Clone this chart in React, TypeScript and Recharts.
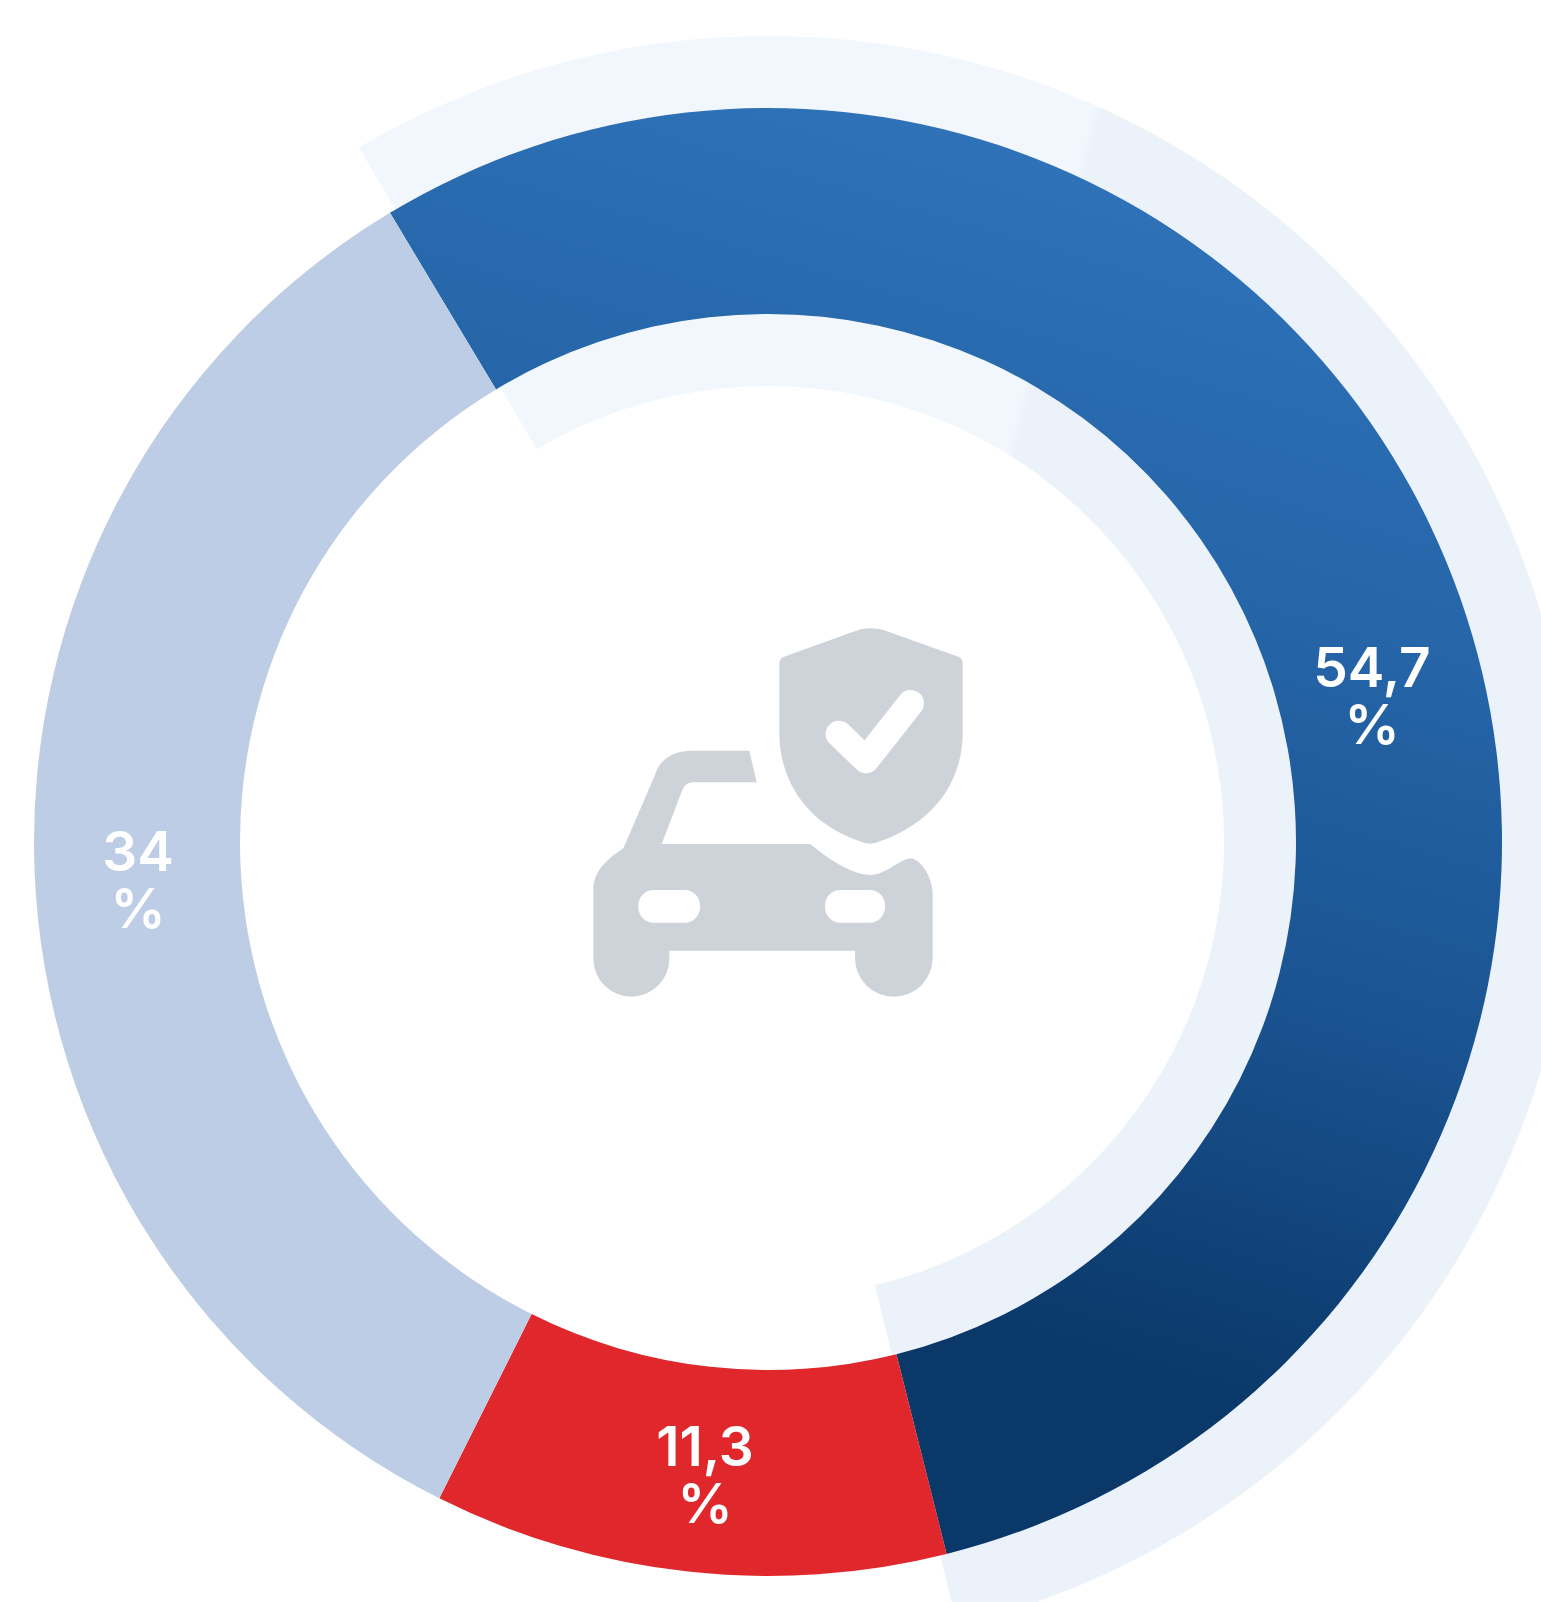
import React from "react";
import { PieChart, Pie, Cell } from "recharts";

const categories = ["A", "B", "C"];
const shares = [54.7, 11.3, 34];
const shareLabels = ["54,7", "11,3", "34"];
const bandValues = [54.7, 45.3];

const COLORS = ["url(#mainBlue)", "#e0272c", "#bccde5"];
const BAND_COLORS = ["url(#paleBand)", "none"];
const CX = 768;
const CY = 842;
// text anchors of the labels: offset from the centre of the ring
const LABEL_OFFSETS = [
  { dx: 604, dy: -155 },
  { dx: -63, dy: 624 },
  { dx: -630, dy: 29 },
];
const LINE_GAP = 57;

const mainData = categories.map((name, i) => ({ name, value: shares[i] }));
const bandData = bandValues.map((value, i) => ({ name: `band${i}`, value }));

const renderLabel = (props: any) => {
  const o = LABEL_OFFSETS[props.index];
  const x = CX + o.dx;
  const y = CY + o.dy;
  return (
    <text
      key={props.index}
      x={x}
      y={y}
      fill="#ffffff"
      textAnchor="middle"
      fontFamily="Inter, sans-serif"
      fontWeight={600}
      fontSize={55}
    >
      <tspan x={x} y={y}>{shareLabels[props.index]}</tspan>
      <tspan x={x} y={y + LINE_GAP}>%</tspan>
    </text>
  );
};

const Icon = () => (
  <g transform="translate(560 600) scale(0.33333)" fill="#ced3da">
    <path d="M930,85 Q905,85 880,95 L672,170 Q658,175 658,190 L658,400 C658,500 700,595 780,660 C820,690 860,710 900,724 Q930,738 960,724 C1000,710 1040,690 1080,660 C1165,595 1208,500 1208,400 L1208,190 Q1208,175 1195,170 L985,95 Q955,85 930,85 Z" />
    <polyline
      points="837,402 918,480 1052,310"
      fill="none"
      stroke="#ffffff"
      strokeWidth={80}
      strokeLinecap="round"
      strokeLinejoin="round"
    />
    <path d="M568,452 L590,547 L400,547 Q375,547 365,575 L305,732 L750,732 C800,770 860,820 930,825 C980,825 1020,775 1055,775 C1090,785 1118,840 1118,880 L1118,1074 A116,116 0 0 1 885,1074 L885,1052 L328,1052 L328,1076 A114,114 0 0 1 100,1076 L100,870 C100,820 130,785 190,745 L285,525 C300,475 340,452 400,452 Z" />
    <rect x={235} y={870} width={185} height={98} rx={46} fill="#ffffff" />
    <rect x={795} y={870} width={180} height={98} rx={46} fill="#ffffff" />
  </g>
);

export default function App() {
  return (
    <div style={{ position: "absolute", left: 0, top: 0, width: 1541, height: 1602, overflow: "hidden", background: "#fff" }}>
      <PieChart width={1541} height={1602} margin={{ top: 0, right: 0, bottom: 0, left: 0 }}>
        <defs>
          <linearGradient id="mainBlue" gradientUnits="userSpaceOnUse" x1={1050} y1={150} x2={700} y2={1350}>
            <stop offset="0" stopColor="#2f72b8" />
            <stop offset="0.3" stopColor="#2565a8" />
            <stop offset="0.6" stopColor="#1a5391" />
            <stop offset="0.92" stopColor="#0a3869" />
            <stop offset="1" stopColor="#0a3869" />
          </linearGradient>
          <linearGradient id="paleBand" gradientUnits="userSpaceOnUse" x1={1054} y1={264} x2={1062} y2={266}>
            <stop offset="0" stopColor="#f1f7fc" />
            <stop offset="1" stopColor="#ecf2fa" />
          </linearGradient>
        </defs>
        <Pie
          data={bandData}
          dataKey="value"
          cx={CX}
          cy={CY}
          innerRadius={456}
          outerRadius={806}
          startAngle={120.5}
          endAngle={-239.5}
          stroke="none"
          isAnimationActive={false}
          legendType="none"
        >
          {bandData.map((d, i) => (
            <Cell key={d.name} fill={BAND_COLORS[i]} />
          ))}
        </Pie>
        <Pie
          data={mainData}
          dataKey="value"
          cx={CX}
          cy={CY}
          innerRadius={528}
          outerRadius={734}
          startAngle={121}
          endAngle={-239}
          stroke="none"
          isAnimationActive={false}
          label={renderLabel}
          labelLine={false}
        >
          {mainData.map((d, i) => (
            <Cell key={d.name} fill={COLORS[i]} />
          ))}
        </Pie>
        <Icon />
      </PieChart>
    </div>
  );
}
